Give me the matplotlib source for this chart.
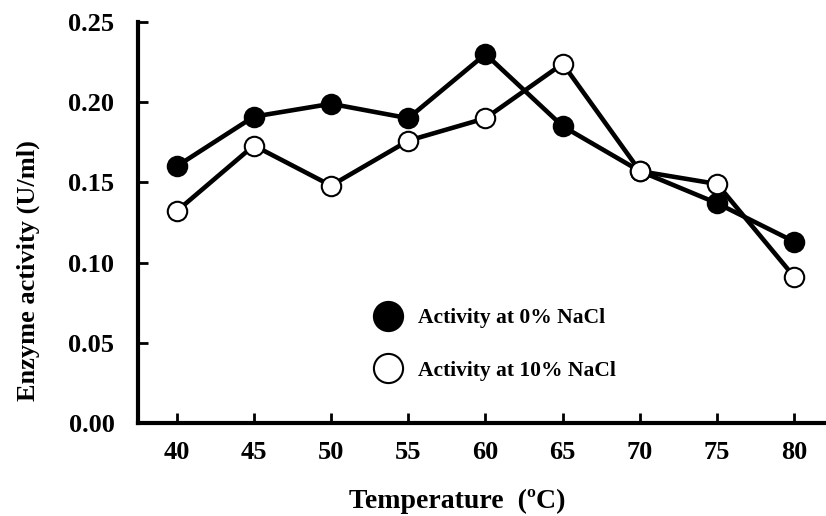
import matplotlib
matplotlib.use('Agg')

import matplotlib.pyplot as plt
from matplotlib.lines import Line2D

# temperatures (C) and enzyme activity (U/ml)
temps = [40, 45, 50, 55, 60, 65, 70, 75, 80]
act_0 = [0.160, 0.191, 0.199, 0.190, 0.230, 0.185, 0.157, 0.137, 0.113]
act_10 = [0.132, 0.173, 0.148, 0.176, 0.190, 0.224, 0.157, 0.149, 0.091]
yticks = [0.00, 0.05, 0.10, 0.15, 0.20, 0.25]
labels = ['Activity at 0% NaCl', 'Activity at 10% NaCl']

plt.rcParams['font.family'] = ['Liberation Serif', 'DejaVu Serif']
plt.rcParams['font.weight'] = 'bold'

fig = plt.figure(figsize=(8.26, 5.16), dpi=100)
ax = fig.add_axes([138/826, 1 - 423/516, 695/826, 401/516])

ax.plot(temps, act_0, color='black', lw=3.3, marker='o', ms=14,
        mfc='black', mec='black', mew=1.5, zorder=3)
ax.plot(temps, act_10, color='black', lw=3.3, marker='o', ms=14,
        mfc='white', mec='black', mew=1.5, zorder=3)

ax.set_xlim(37.5, 82.5)
ax.set_ylim(0, 0.25)
ax.set_xticks(temps)
ax.set_yticks(yticks)
ax.set_yticklabels(['%.2f' % v for v in yticks])

for s in ['top', 'right']:
    ax.spines[s].set_visible(False)
for s in ['left', 'bottom']:
    ax.spines[s].set_linewidth(3)

ax.tick_params(axis='both', direction='in', length=7, width=2,
               labelsize=19)
ax.tick_params(axis='y', pad=17)
ax.tick_params(axis='x', pad=13)

ax.set_xlabel('Temperature  (ºC)', fontsize=20, fontweight='bold')
ax.set_ylabel('Enzyme activity (U/ml)', fontsize=19, fontweight='bold')
ax.xaxis.set_label_coords(0.46, -0.165)
ax.yaxis.set_label_coords(-0.141, 0.38)

handles = [
    Line2D([], [], ls='none', marker='o', ms=21, mfc='black', mec='black', mew=1.5),
    Line2D([], [], ls='none', marker='o', ms=21, mfc='white', mec='black', mew=1.5),
]
ax.legend(handles, labels, loc='center left',
          bbox_to_anchor=(373/826, 1 - 344.5/516), bbox_transform=fig.transFigure,
          frameon=False, fontsize=15.5, handletextpad=0.7, labelspacing=1.5,
          handlelength=1.4, borderpad=0, borderaxespad=0)

fig.savefig('out.png', dpi=100)
